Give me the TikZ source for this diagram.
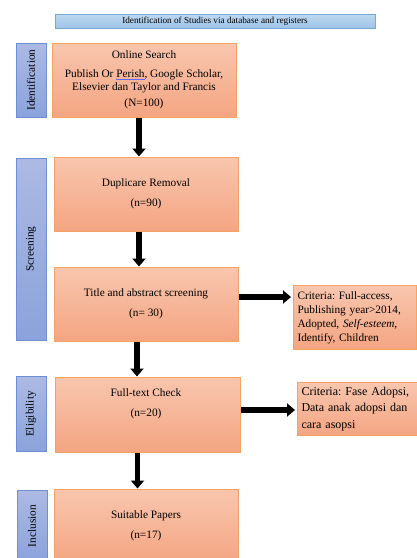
\documentclass[tikz,border=0pt]{standalone}
\usepackage{fontspec}
\setmainfont{Liberation Serif}
\usetikzlibrary{arrows.meta,positioning}
\frenchspacing

\definecolor{stagetop}{HTML}{F8C6AE}
\definecolor{stagebot}{HTML}{F4A582}
\definecolor{stageedge}{HTML}{F5A262}
\definecolor{phasetop}{HTML}{ACBAE3}
\definecolor{phasebot}{HTML}{8BA2DB}
\definecolor{phaseedge}{HTML}{6E8FD6}
\definecolor{headtop}{HTML}{BED8F0}
\definecolor{headbot}{HTML}{9EC3E8}
\definecolor{headedge}{HTML}{74A9DE}

\begin{document}
\begin{tikzpicture}[x=1pt,y=-1pt]
            \tikzstyle{every node}=[font=\fontsize{11.3}{13}\selectfont]
            \tikzstyle{stage}=[draw=stageedge, line width=1pt, top color=stagetop, bottom color=stagebot, minimum width=184pt, minimum height=74pt, align=center, inner sep=0pt]
            \tikzstyle{phase}=[draw=phaseedge, line width=1pt, top color=phasetop, bottom color=phasebot, minimum width=30pt, inner sep=0pt]
            \tikzstyle{criteria}=[draw=stageedge, line width=1pt, top color=stagetop, bottom color=stagebot, anchor=north west, inner xsep=4pt, align=left]
            \tikzstyle{flow}=[line width=5.5pt, -{Triangle[length=8pt,width=13pt]}]

            \useasboundingbox (0,0) rectangle (417,558);

            % header
            \node[draw=headedge, line width=1pt, top color=headtop, bottom color=headbot, minimum width=320pt, minimum height=14pt, inner sep=0pt, font=\fontsize{9.2}{10}\selectfont] (header) at (215,21) {Identification of Studies via database and registers};

            % phases on the left
            \node[phase, minimum height=74pt] (idbar) at (31,80) {\rotatebox{90}{Identification}};
            \node[phase, minimum height=182pt] (scrbar) at (31,249) {\rotatebox{90}{Screening}};
            \node[phase, minimum height=75pt] (eligbar) at (31,414) {\rotatebox{90}{Eligibility}};
            \node[phase, minimum height=72pt] (inclbar) at (32,526) {\rotatebox{90}{Inclusion}};

            % stages
            \node[stage] (search) at (144,80) {Online Search\\[6pt]Publish Or {\color{blue!60}\underline{\color{black}Perish}}, Google Scholar,\\Elsevier dan Taylor and Francis\\[3pt](N=100)};
            \node[stage] (dup) at (146,194) {Duplicare Removal\\[7pt](n=90)};
            \node[stage] (tas) at (146,304) {Title and abstract screening\\[7pt](n= 30)};
            \node[stage, minimum width=185pt, minimum height=75pt] (ft) at (147.5,414.5) {};
            \node[align=center] (fttext) at (146,404) {Full-text Check\\[7pt](n=20)};
            \node[stage] (paper) at (146,526) {Suitable Papers\\[7pt](n=17)};

            % criteria
            \node[criteria, minimum width=123pt, minimum height=64pt, text width=115pt, font=\fontsize{11.3}{14}\selectfont] (crit1) at (293,285) {Criteria: Full-access,\\Publishing year>2014,\\Adopted, \textit{Self-esteem},\\Identify, Children};
            \node[criteria, minimum width=128pt, minimum height=53pt, text width=120pt, font=\fontsize{12}{16.5}\selectfont] (crit2) at (297,382) {Criteria: Fase Adopsi,\\Data anak adopsi dan\\cara asopsi};

            % arrows
            \draw[flow] ([xshift=-5pt]search.south) -- ([xshift=-5pt]search.south |- dup.north);
            \draw[flow] ([xshift=-7pt]dup.south) -- ([xshift=-7pt]dup.south |- tas.north);
            \draw[flow] ([xshift=-9pt]tas.south) -- ([xshift=-9pt]tas.south |- ft.north);
            \draw[flow] ([xshift=-10pt]ft.south) -- ([xshift=-10pt]ft.south |- paper.north);
            \draw[flow, shorten >=2pt] ([yshift=7pt]tas.east) -- ([yshift=7pt]tas.east -| crit1.west);
            \draw[flow, shorten >=2pt] ([yshift=4.5pt]ft.east) -- ([yshift=4.5pt]ft.east -| crit2.west);

\end{tikzpicture}
\end{document}
